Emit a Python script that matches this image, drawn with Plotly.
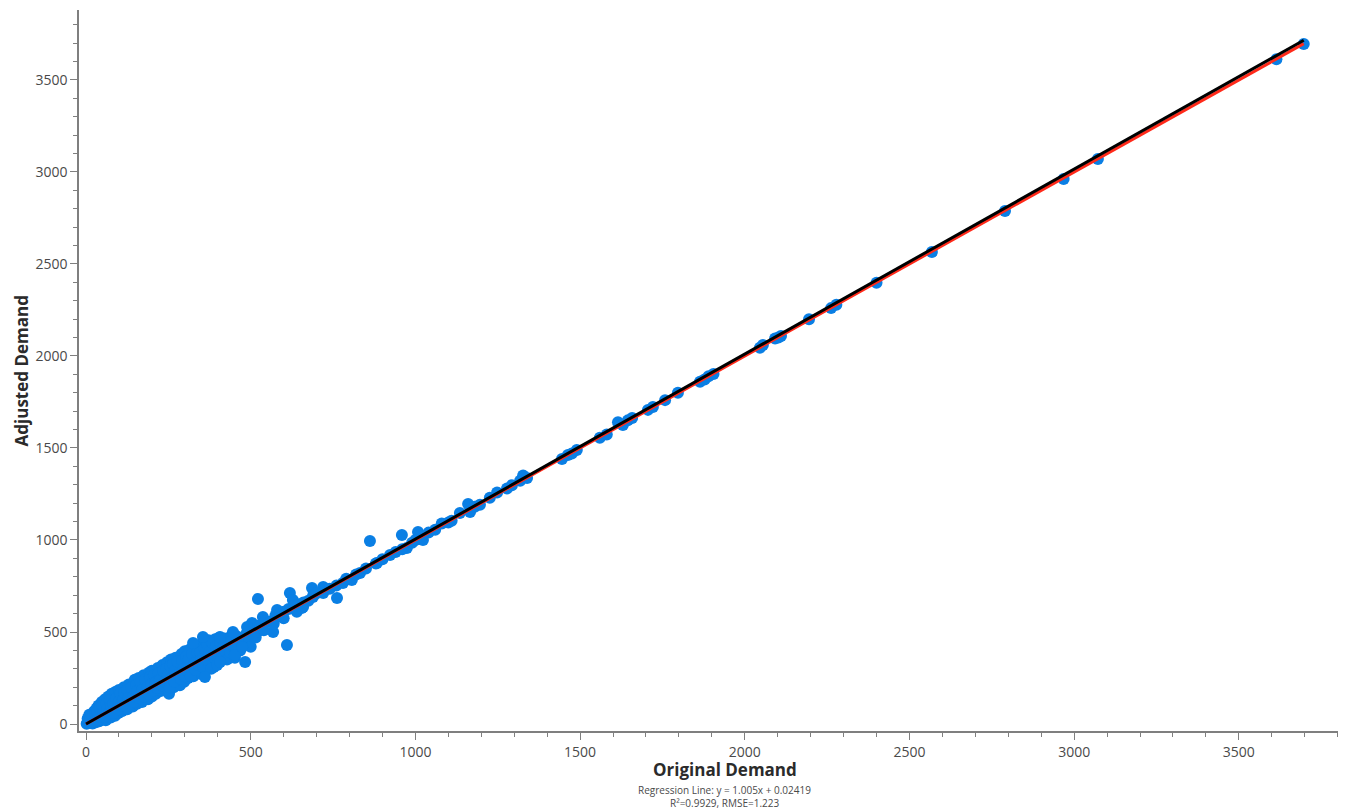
import plotly.graph_objects as go

# ---- data ----
band_x = [2, 5, 8, 10, 12, 15, 18, 20, 22, 25,
          30, 32, 35, 38, 40, 45, 48, 50, 55, 58, 60,
          65, 68, 70, 75, 78, 80, 85, 88, 90, 95, 98, 100,
          105, 110, 115, 118, 120, 125, 130, 135, 140, 142, 148, 150,
          155, 160, 165, 170, 175, 178, 182, 188, 192, 196, 200, 200,
          208, 212, 218, 222, 228, 232, 238, 242, 246, 250, 252,
          258, 262, 266, 272, 276, 280, 285, 290, 295, 298, 300,
          305, 310, 315, 320, 326, 330, 335, 340, 345, 348, 352,
          358, 362, 366, 372, 378, 382, 388, 392, 396, 400,
          405, 410, 415, 420, 425, 430, 436, 440, 445, 450,
          455, 462, 468, 474, 480, 488, 495, 500, 508, 515, 520]
band_y = [2, 10, 25, 5, 40, 15, 55, 3, 30, 70,
          10, 85, 45, 100, 15, 65, 120, 25, 90, 135, 20,
          55, 150, 110, 35, 165, 80, 130, 45, 175, 100, 60, 185,
          140, 70, 200, 110, 160, 80, 215, 130, 185, 95, 240, 160,
          110, 250, 200, 120, 265, 160, 225, 135, 280, 190, 150, 290,
          240, 165, 305, 210, 180, 320, 260, 195, 335, 230, 165,
          350, 280, 200, 360, 240, 310, 210, 380, 270, 230, 395,
          330, 250, 405, 290, 260, 420, 350, 280, 430, 310, 270,
          445, 380, 300, 455, 330, 410, 310, 460, 360, 340,
          470, 400, 350, 465, 380, 430, 360, 475, 410, 390,
          480, 440, 400, 470, 430, 495, 455, 420, 505, 470, 500]

fill_x = [5, 10, 14, 20, 26, 28, 34, 36, 42, 44, 50, 52, 56, 62, 64, 70, 72, 76,
          82, 84, 92, 96, 100,
          104, 108, 112, 116, 122, 126, 128, 134, 138, 144, 146, 152, 156, 162,
          166, 170, 176, 180, 186, 190, 194, 198,
          204, 206, 210, 216, 220, 224, 230, 234, 240, 244, 248, 254, 256, 260,
          264, 268, 270, 278, 282, 288, 292, 296, 300,
          304, 308, 312, 318, 322, 328, 332, 338, 342, 346, 350, 356, 360, 364,
          368, 374, 380, 384, 390, 394, 398, 402, 408, 412, 418, 422, 428, 432,
          438, 442, 448, 452]
fill_y = [30, 50, 28, 45, 15, 55, 70, 25, 85, 40, 100, 60, 40, 115, 80, 60, 130, 95,
          110, 60, 140, 80, 120,
          165, 100, 130, 170, 95, 185, 140, 110, 200, 150, 120, 210, 180, 140,
          225, 185, 150, 240, 200, 165, 255, 215,
          180, 265, 225, 195, 275, 240, 210, 290, 230, 300, 265, 200, 315, 250,
          325, 230, 290, 340, 270, 245, 345, 300, 260,
          365, 290, 350, 260, 380, 330, 295, 390, 320, 390, 350, 310, 410, 350,
          430, 390, 300, 440, 360, 420, 320, 380, 440, 360, 420, 400, 350, 460,
          390, 450, 420, 360]

mid_x = [361, 407, 452, 474, 446, 407, 355, 325, 483, 522, 537, 504, 489, 568,
         580, 610, 619, 628, 659, 686, 689, 720, 762, 780, 807, 832, 862, 883,
         923, 959, 974, 1008, 1023, 530, 545, 560, 575, 590, 600, 615, 630, 645,
         660, 675, 690, 700, 540, 570, 600, 640, 655, 720, 740, 760, 790, 820,
         850, 880, 900, 940, 960, 990, 1000, 1040, 1060, 1080, 1100, 1110]
mid_y = [255, 337, 375, 418, 500, 473, 473, 440, 337, 679, 582, 549, 527, 500,
         620, 429, 712, 674, 636, 739, 690, 745, 685, 766, 783, 820, 995, 875,
         918, 1027, 957, 1043, 1000, 540, 560, 555, 590, 600, 610, 625, 640, 650,
         660, 670, 700, 710, 510, 545, 575, 610, 630, 712, 735, 752, 790, 812,
         845, 872, 895, 935, 950, 985, 1000, 1040, 1055, 1090, 1095, 1105]

high_x = [1135, 1160, 1166, 1180, 1196, 1226, 1248, 1278, 1293, 1318, 1327, 1339,
          1445, 1463, 1475, 1490, 1560, 1581, 1615, 1630, 1645, 1658, 1706, 1721,
          1758, 1797, 1864, 1878, 1890, 1905, 2046, 2055, 2092, 2102, 2110, 2195,
          2262, 2278, 2400, 2568, 2790, 2968, 3072, 3614, 3697]
high_y = [1147, 1195, 1152, 1180, 1192, 1230, 1258, 1280, 1297, 1322, 1350, 1337,
          1440, 1462, 1470, 1489, 1555, 1573, 1640, 1625, 1650, 1663, 1707, 1723,
          1760, 1800, 1860, 1872, 1890, 1902, 2045, 2060, 2095, 2100, 2108, 2200,
          2260, 2278, 2398, 2565, 2788, 2962, 3070, 3612, 3695]

slope = 1.005
intercept = 0.02419
r2 = 0.9929
rmse = 1.223

x_ticks = [0, 500, 1000, 1500, 2000, 2500, 3000, 3500]
y_ticks = [0, 500, 1000, 1500, 2000, 2500, 3000, 3500]

xs = band_x + fill_x + mid_x + high_x
ys = band_y + fill_y + mid_y + high_y
x_end = max(xs)

BLUE = "#0a7fe4"
AXIS = "#7f7f7f"
TXT = "#4a4a4a"
FONT = "Open Sans"

fig = go.Figure()
fig.add_trace(go.Scatter(x=xs, y=ys, mode="markers",
                         marker=dict(size=12, color=BLUE, line=dict(width=0)),
                         showlegend=False, hoverinfo="x+y"))
fig.add_trace(go.Scatter(x=[0, x_end], y=[0, x_end], mode="lines",
                         line=dict(color="#ff2a1a", width=3), showlegend=False))
fig.add_trace(go.Scatter(x=[0, x_end], y=[intercept, slope * x_end + intercept],
                         mode="lines", line=dict(color="#000000", width=3),
                         showlegend=False))

axis_common = dict(showline=True, linecolor=AXIS, linewidth=1.5, showgrid=False,
                   zeroline=False, ticks="outside", ticklen=7, tickwidth=1.2,
                   tickcolor=AXIS, tickfont=dict(family=FONT, size=14, color=TXT),
                   minor=dict(dtick=100, ticks="outside", ticklen=4,
                              tickcolor=AXIS, tickwidth=1.2, showgrid=False))

fig.update_xaxes(range=[-21.3, 3801], tickvals=x_ticks,
                 ticktext=[str(v) for v in x_ticks], **axis_common)
fig.update_yaxes(range=[-38, 3880], tickvals=y_ticks,
                 ticktext=[str(v) for v in y_ticks], **axis_common)

fig.update_layout(
    width=1351, height=812,
    margin=dict(l=79, r=13, t=10, b=81),
    plot_bgcolor="white", paper_bgcolor="white",
    font=dict(family=FONT, color=TXT),
    annotations=[
        dict(text="<b>Original Demand</b>", xref="paper", yref="paper",
             x=0.513, y=-0.053, xanchor="center", yanchor="middle",
             showarrow=False, font=dict(family=FONT, size=17, color="#2b2b2b")),
        dict(text="<b>Adjusted Demand</b>", xref="paper", yref="paper",
             x=-0.0453, y=0.5, xanchor="center", yanchor="middle", textangle=-90,
             showarrow=False, font=dict(family=FONT, size=17, color="#2b2b2b")),
        dict(text=f"Regression Line: y = {slope}x + {intercept}",
             xref="paper", yref="paper", x=0.513, y=-0.0815,
             xanchor="center", yanchor="middle", showarrow=False,
             font=dict(family=FONT, size=10, color=TXT)),
        dict(text=f"R²={r2}, RMSE={rmse}",
             xref="paper", yref="paper", x=0.513, y=-0.1005,
             xanchor="center", yanchor="middle", showarrow=False,
             font=dict(family=FONT, size=10, color=TXT)),
    ],
)

fig.write_html("out.html")
